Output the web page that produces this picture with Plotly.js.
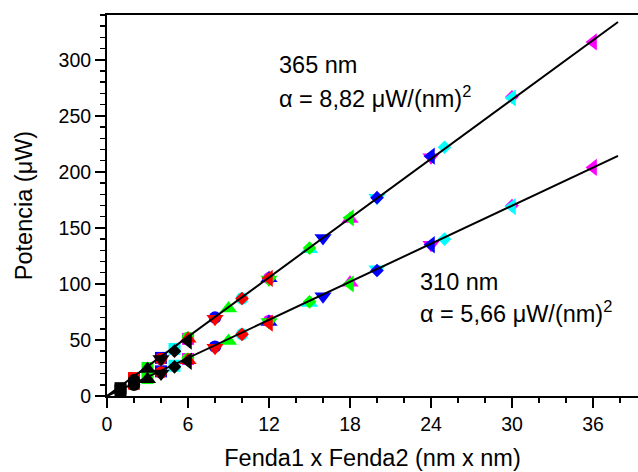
<!DOCTYPE html>
<html>
<head>
<meta charset="utf-8">
<script src="https://cdn.plot.ly/plotly-3.0.1.min.js"></script>
<style>html,body{margin:0;padding:0;background:#fff;}#chart{width:638px;height:472px;}</style>
</head>
<body>
<div id="chart"></div>
<script>
// Colour index i = Fenda1 (1..6), symbol index j = Fenda2 (1..6); x = i*j
const seriesColors = ['#000000', '#ff0000', '#00ff00', '#0000ff', '#00ffff', '#ff00ff'];
const seriesSymbols = ['square', 'circle', 'triangle-up', 'triangle-down', 'diamond', 'triangle-left'];

const x_sq = [1, 2, 3, 4, 5, 6];
const x_ci = [2, 4, 6, 8, 10, 12];
const x_tu = [3, 6, 9, 12, 15, 18];
const x_td = [4, 8, 12, 16, 20, 24];
const x_di = [5, 10, 15, 20, 25, 30];
const x_tl = [6, 12, 18, 24, 30, 36];

// 365 nm
const y365_sq = [7, 16, 25, 34, 42, 51];
const y365_ci = [14, 33, 52, 70, 87, 105];
const y365_tu = [24, 51, 78, 105, 131, 158];
const y365_td = [33, 69, 104, 141, 177, 213];
const y365_di = [40, 87, 132, 177, 222, 267];
const y365_tl = [49, 105, 159, 214, 266, 316];

// 310 nm
const y310_sq = [5, 11, 16, 22, 27, 33];
const y310_ci = [10, 21, 33, 44, 55, 67];
const y310_tu = [15, 32, 49, 66, 83, 101];
const y310_td = [20, 43, 66, 89, 113, 135];
const y310_di = [26, 55, 84, 112, 140, 170];
const y310_tl = [31, 65, 100, 135, 169, 204];

// linear fits
const fitX = [0, 37.85];
const fit365Y = [0, 333.8];
const fit310Y = [0, 214.3];

const xs = [x_sq, x_ci, x_tu, x_td, x_di, x_tl];
const y310 = [y310_sq, y310_ci, y310_tu, y310_td, y310_di, y310_tl];
const y365 = [y365_sq, y365_ci, y365_tu, y365_td, y365_di, y365_tl];
const symbolSizes = [12, 12.5, 15, 15, 10.5, 15];

const traces = [];
for (let j = 0; j < 6; j++) {
  [y310[j], y365[j]].forEach(ys => {
    traces.push({
      type: 'scatter', mode: 'markers', x: xs[j], y: ys,
      marker: {symbol: seriesSymbols[j], size: symbolSizes[j], color: seriesColors, line: {width: 0}},
      showlegend: false, hoverinfo: 'skip', cliponaxis: false
    });
  });
}
traces.push({type: 'scatter', mode: 'lines', x: fitX, y: fit365Y, line: {color: '#000', width: 2}, showlegend: false});
traces.push({type: 'scatter', mode: 'lines', x: fitX, y: fit310Y, line: {color: '#000', width: 2}, showlegend: false});

const fontFam = 'Liberation Sans, Arial, sans-serif';
const layout = {
  width: 638, height: 472,
  margin: {l: 107, r: 0, t: 15, b: 76},
  paper_bgcolor: '#fff', plot_bgcolor: '#fff',
  font: {family: fontFam, color: '#000', size: 20},
  showlegend: false,
  xaxis: {
    range: [0, 39.33], tickvals: [0, 6, 12, 18, 24, 30, 36],
    ticks: 'outside', ticklen: 10, tickwidth: 1.5, tickcolor: '#000',
    minor: {dtick: 2, tick0: 0, ticks: 'outside', ticklen: 5, tickwidth: 1.5, tickcolor: '#000', showgrid: false},
    showline: true, linewidth: 2, linecolor: '#000', mirror: true,
    showgrid: false, zeroline: false,
    tickfont: {size: 19.5, family: fontFam},
    title: {text: 'Fenda1 x Fenda2 (nm x nm)', font: {size: 23.5, family: fontFam}, standoff: 15}
  },
  yaxis: {
    range: [0, 340], tickvals: [0, 50, 100, 150, 200, 250, 300],
    ticks: 'outside', ticklen: 10, tickwidth: 1.5, tickcolor: '#000',
    minor: {dtick: 10, tick0: 0, ticks: 'outside', ticklen: 5, tickwidth: 1.5, tickcolor: '#000', showgrid: false},
    showline: true, linewidth: 2, linecolor: '#000', mirror: false,
    showgrid: false, zeroline: false,
    tickfont: {size: 19.5, family: fontFam},
    title: {text: 'Potencia (μW)', font: {size: 23.5, family: fontFam}, standoff: 19}
  },
  annotations: [
    {x: 12.6, y: 295, xref: 'x', yref: 'y', text: '365 nm', showarrow: false, xanchor: 'left', yanchor: 'middle', font: {size: 23.5}},
    {x: 12.6, y: 267, xref: 'x', yref: 'y', text: 'α = 8,82 μW/(nm)<sup>2</sup>', showarrow: false, xanchor: 'left', yanchor: 'middle', font: {size: 23.5}},
    {x: 23.0, y: 102, xref: 'x', yref: 'y', text: '310 nm', showarrow: false, xanchor: 'left', yanchor: 'middle', font: {size: 23.5}},
    {x: 23.0, y: 75, xref: 'x', yref: 'y', text: 'α = 5,66 μW/(nm)<sup>2</sup>', showarrow: false, xanchor: 'left', yanchor: 'middle', font: {size: 23.5}}
  ]
};
Plotly.newPlot('chart', traces, layout, {staticPlot: true, displayModeBar: false});
</script>
</body>
</html>
